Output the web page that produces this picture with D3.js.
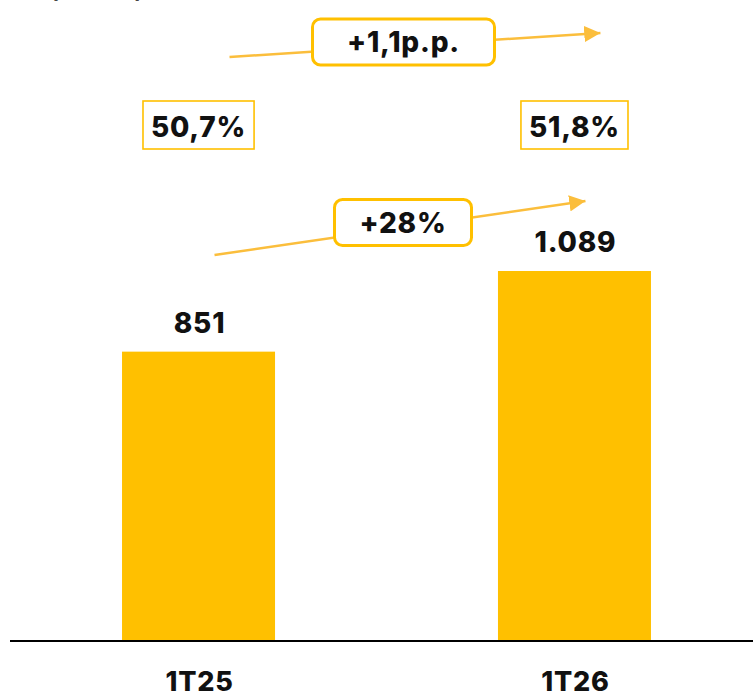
<!DOCTYPE html>
<html><head><meta charset="utf-8">
<script src="https://cdn.jsdelivr.net/npm/d3@7"></script>
<style>
html,body{margin:0;padding:0;background:#fff;}
svg{display:block;}
text{font-family:Inter,"Open Sans",sans-serif;font-weight:800;fill:#111;letter-spacing:0.8px;}
</style></head>
<body>
<svg id="chart" width="753" height="695"></svg>
<script>
const categories = ["1T25", "1T26"];
const values = [851, 1089];
const valueLabels = ["851", "1.089"];
const margins = [50.7, 51.8];
const marginLabels = ["50,7%", "51,8%"];
const growthLabel = "+28%";
const marginDeltaLabel = "+1,1p.p.";
const unitLabel = "(R$ mi)";

const W = 753, H = 695;
const svg = d3.select("#chart");
const yellow = "#FFC000";
const arrowCol = "#FBBE3C";

const x = d3.scaleBand().domain(categories).range([10, 763]).paddingInner(0.593).paddingOuter(0.298);
const y = d3.scaleLinear().domain([0, 1089]).range([640, 271]);

svg.append("defs").append("marker")
  .attr("id", "ah").attr("viewBox", "0 0 10 10").attr("refX", 10).attr("refY", 5)
  .attr("markerWidth", 6.5).attr("markerHeight", 6.5).attr("markerUnits", "strokeWidth")
  .attr("orient", "auto")
  .append("path").attr("d", "M0,0 L10,5 L0,10 z").attr("fill", arrowCol);

// unit label (cut off at top, as in the reference)
svg.append("text").attr("x", 97).attr("y", -3).attr("text-anchor", "middle")
  .style("font-size", "26px").style("font-weight", 600).text(unitLabel);

// bars
svg.selectAll("rect.bar").data(values).join("rect").attr("class", "bar")
  .attr("x", (d, i) => x(categories[i])).attr("width", x.bandwidth())
  .attr("y", d => y(d)).attr("height", d => y(0) - y(d)).attr("fill", yellow);

// baseline
svg.append("line").attr("x1", 10).attr("x2", W).attr("y1", y(0) + 1).attr("y2", y(0) + 1)
  .attr("stroke", "#000").attr("stroke-width", 2);

// value labels
svg.selectAll("text.val").data(values).join("text").attr("class", "val")
  .attr("x", (d, i) => x(categories[i]) + x.bandwidth() / 2 + 1).attr("y", d => y(d) - 19)
  .attr("text-anchor", "middle").style("font-size", "28px").text((d, i) => valueLabels[i]);

// category labels
svg.selectAll("text.cat").data(categories).join("text").attr("class", "cat")
  .attr("x", d => x(d) + x.bandwidth() / 2 + 1).attr("y", 691)
  .attr("text-anchor", "middle").style("font-size", "27px").text(d => d);

// margin boxes
const mg = svg.selectAll("g.mg").data(margins).join("g").attr("class", "mg")
  .attr("transform", (d, i) => `translate(${x(categories[i]) + x.bandwidth() / 2},125)`);
mg.append("text").attr("y", 12).attr("text-anchor", "middle").style("font-size", "28px")
  .text((d, i) => marginLabels[i]);
mg.each(function () {
  const g = d3.select(this);
  const bb = g.select("text").node().getBBox();
  g.insert("rect", "text").attr("x", bb.x - 8).attr("y", -24).attr("width", bb.width + 16).attr("height", 48)
    .attr("fill", "#fff").attr("stroke", yellow).attr("stroke-width", 1.6);
});

// growth arrows with labels
function arrowBox(x1, y1, x2, y2, cx, cy, w, label) {
  svg.append("line").attr("x1", x1).attr("y1", y1).attr("x2", x2).attr("y2", y2)
    .attr("stroke", arrowCol).attr("stroke-width", 2.5).attr("marker-end", "url(#ah)");
  svg.append("rect").attr("x", cx - w / 2).attr("y", cy - 23).attr("width", w).attr("height", 46)
    .attr("rx", 8).attr("fill", "#fff").attr("stroke", yellow).attr("stroke-width", 3);
  svg.append("text").attr("x", cx).attr("y", cy + 10).attr("text-anchor", "middle")
    .style("font-size", "28px").text(label);
}
const c0 = x(categories[0]) + x.bandwidth() / 2, c1 = x(categories[1]) + x.bandwidth() / 2;
arrowBox(c0 + 31, 57, c1 + 26, 33, 403.5, 42, 182, marginDeltaLabel);
arrowBox(c0 + 16, 255, c1 + 11, 201, 403, 222.5, 137, growthLabel);
</script>
</body></html>
